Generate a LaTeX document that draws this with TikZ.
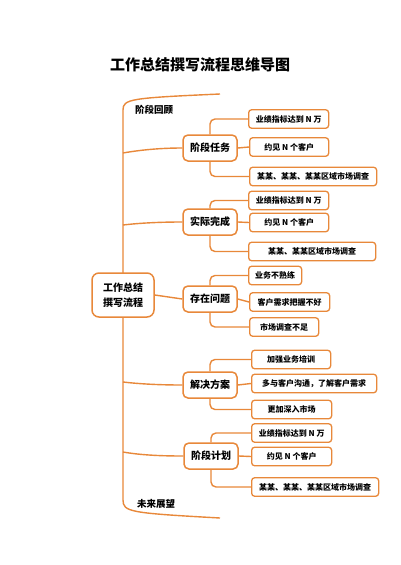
\documentclass[tikz,border=0pt]{standalone}
\usepackage{fontspec}
\setmainfont{Noto Sans CJK SC}
\definecolor{orng}{HTML}{E8883A}
\pgfdeclarelayer{background}
\pgfsetlayers{background,main}
\begin{document}
\begin{tikzpicture}[x=1pt,y=-1pt,
  conn/.style={draw=orng, line width=1.4pt},
  rootbox/.style={draw=orng, line width=1.5pt, rounded corners=7pt, fill=white, align=center,
    font=\bfseries\fontsize{10}{15}\selectfont, minimum width=62pt, minimum height=44pt, inner sep=0pt},
  lvone/.style={draw=orng, line width=1.5pt, rounded corners=5pt, fill=white,
    font=\bfseries\fontsize{10}{12}\selectfont, minimum width=54pt, minimum height=26pt, inner sep=0pt},
  lvtwo/.style={draw=orng, line width=1.3pt, rounded corners=3pt, fill=white,
    font=\bfseries\fontsize{8}{10}\selectfont, minimum height=18.5pt, inner sep=0pt, anchor=west},
  lbl/.style={font=\bfseries\fontsize{9.5}{11}\selectfont, anchor=west, inner sep=0pt}
]
\useasboundingbox (0,0) rectangle (400,565);

\node[font=\bfseries\fontsize{15}{18}\selectfont] (title) at (200,65) {工作总结撰写流程思维导图};

\node[lbl] (past) at (135,110) {阶段回顾};
\node[lbl] (future) at (137,504) {未来展望};

\node[rootbox] (r) at (123,295) {工作总结\\撰写流程};

\node[lvone] (a) at (210,148) {阶段任务};
\node[lvone] (b) at (210,222) {实际完成};
\node[lvone] (c) at (210,299) {存在问题};
\node[lvone] (d) at (210,385) {解决方案};
\node[lvone] (e) at (211,456) {阶段计划};

\node[lvtwo, minimum width=80pt] (a1) at (248,119) {业绩指标达到 N 万};
\node[lvtwo, minimum width=79pt] (a2) at (249,147) {约见 N 个客户};
\node[lvtwo, minimum width=127pt] (a3) at (249,176.5) {某某、某某、某某区域市场调查};

\node[lvtwo, minimum width=80pt] (b1) at (248,200.5) {业绩指标达到 N 万};
\node[lvtwo, minimum width=79pt] (b2) at (249,222.5) {约见 N 个客户};
\node[lvtwo, minimum width=127pt] (b3) at (248,251.5) {某某、某某区域市场调查};

\node[lvtwo, minimum width=53pt] (c1) at (248,275.5) {业务不熟练};
\node[lvtwo, minimum width=80pt] (c2) at (249,302) {客户需求把握不好};
\node[lvtwo, minimum width=69pt] (c3) at (249,327) {市场调查不足};

\node[lvtwo, minimum width=79pt] (d1) at (251,359.5) {加强业务培训};
\node[lvtwo, minimum width=125pt] (d2) at (251,383.5) {多与客户沟通，了解客户需求};
\node[lvtwo, minimum width=80pt] (d3) at (251,409.5) {更加深入市场};

\node[lvtwo, minimum width=80pt] (e1) at (251,433) {业绩指标达到 N 万};
\node[lvtwo, minimum width=80pt] (e2) at (251,456.5) {约见 N 个客户};
\node[lvtwo, minimum width=127pt] (e3) at (251,487) {某某、某某、某某区域市场调查};

\coordinate (tt) at (220,94);
\coordinate (tb) at (220,518);
\coordinate (ja) at (123,153);
\coordinate (jb) at (123,225);
\coordinate (jd) at (123,382);
\coordinate (je) at (123,452);

\begin{pgfonlayer}{background}
\fill[white] (0,0) rectangle (400,565);
\draw[conn] (tt) .. controls (130,98) and (123,99) .. (123,110) -- (123,500) .. controls (123,512) and (130,513) .. (tb);
\draw[conn] (ja) .. controls (140,150) and (160,148) .. (a.west);
\draw[conn] (jb) .. controls (140,223) and (160,222) .. (b.west);
\draw[conn] (r.east) -- (c.west);
\draw[conn] (jd) .. controls (140,384) and (160,385) .. (d.west);
\draw[conn] (je) .. controls (140,455) and (160,456) .. (e.west);

\foreach \p in {a,b,c,d,e}{
  \draw[conn, rounded corners=5pt] (\p.north) |- (\p1.west);
  \draw[conn] (\p.east) -- (\p2.west);
  \draw[conn, rounded corners=5pt] (\p.south) |- (\p3.west);
}
\end{pgfonlayer}
\end{tikzpicture}
\end{document}
